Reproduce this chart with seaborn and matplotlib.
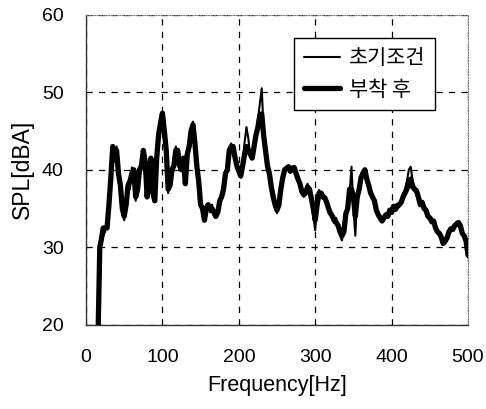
import numpy as np
import pandas as pd
import matplotlib
matplotlib.use("Agg")
import matplotlib.pyplot as plt
import seaborn as sns

freq = [16, 17, 18, 20, 22.5, 25, 27.5, 30, 32.5, 35, 37.5, 40, 42.5, 45, 47.5, 50,
        52.5, 55, 57.5, 60, 62.5, 65, 67.5, 70, 72.5, 75, 77.5, 80, 82.5, 85, 87.5, 90,
        92.5, 95, 97.5, 100, 102.5, 105, 107.5, 110, 112.5, 115, 117.5, 120, 122.5, 125,
        127.5, 130, 132.5, 135, 137.5, 140, 142.5, 145, 147.5, 150, 152.5, 155, 157.5, 160,
        162.5, 165, 167.5, 170, 172.5, 175, 177.5, 180, 182.5, 185, 187.5, 190, 192.5, 195,
        197.5, 200, 202.5, 205, 207.5, 210, 212.5, 215, 217.5, 220, 222.5, 225, 227.5, 230,
        232.5, 235, 237.5, 240, 242.5, 245, 247.5, 250, 252.5, 255, 257.5, 260, 262.5, 265,
        267.5, 270, 272.5, 275, 277.5, 280, 282.5, 285, 287.5, 290, 292.5, 295, 297.5, 300,
        302.5, 305, 307.5, 310, 312.5, 315, 317.5, 320, 322.5, 325, 327.5, 330, 332.5, 335,
        337.5, 340, 342.5, 345, 347.5, 350, 352.5, 355, 357.5, 360, 362.5, 365, 367.5, 370,
        372.5, 375, 377.5, 380, 382.5, 385, 387.5, 390, 392.5, 395, 397.5, 400, 402.5, 405,
        407.5, 410, 412.5, 415, 417.5, 420, 422.5, 425, 427.5, 430, 432.5, 435, 437.5, 440,
        442.5, 445, 447.5, 450, 452.5, 455, 457.5, 460, 462.5, 465, 467.5, 470, 472.5, 475,
        477.5, 480, 482.5, 485, 487.5, 490, 492.5, 495, 497.5, 500]

spl_initial = [20, 26, 29.5, 30.5, 31.5, 32, 33, 35, 40, 42.5, 41, 43, 40, 37.5, 34.5, 33.5,
               36, 38.5, 37.5, 40.3, 39, 36, 38, 39.5, 41, 42, 40.5, 37, 40, 41, 37.5, 36.5,
               41, 45, 46.5, 47, 45.5, 42, 37, 38.5, 39.5, 41, 43, 42, 40, 40.5,
               41, 38.5, 41.5, 43.5, 45.5, 46.2, 43, 40, 38, 36, 34.5, 34, 35.5, 35.2,
               34.5, 35.5, 34, 33.8, 35, 35.5, 36.5, 38, 39.5, 40.5, 42, 43.4, 42.5, 41.5,
               40, 39.5, 39, 41, 43.5, 45.5, 44, 41.6, 42, 43.5, 44, 46.5, 48.5, 50.5,
               45, 42, 41, 39, 37.4, 36, 35, 34.4, 36, 37.8, 39.5, 39.8, 40.4, 40,
               40.3, 40.4, 39.8, 39.1, 38.5, 37.8, 37.5, 36.5, 37.5, 38.2, 37, 36, 34, 32.2,
               36.1, 37.4, 36.5, 37, 36.1, 35.5, 34.4, 34.8, 33.5, 33.1, 33.8, 32.5, 31.5, 30.9,
               32.5, 34, 35.5, 37, 40.4, 35, 31.5, 37, 38, 39.5, 39.9, 39.5, 38.5, 37.8,
               37.5, 36.9, 35.5, 35, 34, 33.5, 33.8, 34, 33.9, 34.3, 34.5, 34.8, 35, 35.2,
               35, 35.2, 36, 36.9, 37.5, 38.5, 40, 40.4, 38.5, 37.8, 37, 36.1, 35.8, 35.5,
               35.2, 34.5, 34.2, 33.5, 33.8, 33, 32.2, 32.4, 31.5, 31, 30.8, 30.5, 31.5, 32.2,
               32, 32.5, 33, 33.3, 32.8, 32.5, 32, 31.3, 30.5, 28.7]

spl_after = [20, 25, 30, 31, 32.5, 32.5, 32.5, 35.5, 39, 43, 42, 42.5, 39.5, 38, 35, 34,
             35.5, 38, 38.5, 39.5, 40, 36.5, 37.5, 40, 40.5, 42.5, 41, 36.5, 39.5, 41.5, 37, 36,
             41.5, 44.5, 46, 47.3, 45, 42.5, 37.5, 38, 40, 40.5, 42.5, 42.5, 40.5, 40,
             41.5, 38.2, 42, 43, 45, 45.8, 43.5, 40.5, 38.5, 35.5, 35, 33.5, 35, 35.5,
             35, 35, 34.5, 34, 34.5, 36, 36.5, 37.5, 39.5, 40, 42.5, 43, 43, 41.6,
             40.5, 39.8, 39.2, 40.5, 42, 43, 42.5, 42, 41.5, 43, 44.5, 45.5, 47, 47.2,
             44.4, 42.5, 40.5, 39.5, 37.8, 36.5, 35.5, 34.8, 35.5, 37.5, 39, 40, 40.2, 40.4,
             39.8, 40.2, 40.3, 39.5, 38.8, 38.2, 37.2, 36.8, 37, 37.8, 37.5, 36.3, 35, 33.5,
             35.5, 37, 37, 36.5, 36.4, 35.8, 35, 34.4, 34, 33.5, 33.2, 32.8, 32, 31.5,
             32, 34.3, 35, 37.5, 37.5, 36.5, 34, 36.5, 37.5, 39, 39.5, 40, 38.8, 38,
             37, 36.5, 36, 34.8, 34.2, 33.8, 33.4, 33.8, 34.2, 34, 34.8, 34.5, 35.3, 34.9,
             35.4, 35.5, 35.8, 36.5, 37, 37.5, 38.5, 38.8, 37.8, 37.5, 37.3, 36.5, 35.5, 35.8,
             35, 34.8, 34, 33.8, 33.3, 33.4, 32.5, 32, 31.8, 31.3, 30.5, 30.8, 31.2, 32,
             32.4, 32.3, 32.8, 33, 33.2, 32.8, 31.8, 31.5, 30.8, 29]

series_labels = ["초기조건", "부착 후"]
x_ticks = [0, 100, 200, 300, 400, 500]
y_ticks = [20, 30, 40, 50, 60]

df_a = pd.DataFrame({"Frequency": freq, "SPL": spl_initial})
df_b = pd.DataFrame({"Frequency": freq, "SPL": spl_after})

sns.set_theme(style="white")
plt.rcParams["font.family"] = ["Liberation Sans", "Noto Sans CJK KR", "DejaVu Sans"]
plt.rcParams["text.color"] = "black"
plt.rcParams["axes.labelcolor"] = "black"

fig = plt.figure(figsize=(4.86, 4.09), dpi=100)
ax = fig.add_axes([0.177, 0.2054, 0.786, 0.759])

sns.lineplot(data=df_b, x="Frequency", y="SPL", ax=ax, color="black", linewidth=3.8,
             label=series_labels[1], zorder=3)
sns.lineplot(data=df_a, x="Frequency", y="SPL", ax=ax, color="black", linewidth=1.5,
             label=series_labels[0], zorder=4)

ax.set_xlim(0, 500)
ax.set_ylim(20, 60)
ax.set_xticks(x_ticks)
ax.set_yticks(y_ticks)
ax.tick_params(axis="both", length=0, labelsize=14, colors="black", labelcolor="black")
ax.tick_params(axis="x", pad=17)
ax.tick_params(axis="y", pad=16)
ax.grid(True, color="black", linestyle=(0, (5, 5)), linewidth=0.9)
for side in ["left", "bottom"]:
    ax.spines[side].set_color("#333333")
    ax.spines[side].set_linewidth(1.0)
for side in ["top", "right"]:
    ax.spines[side].set_color("#777777")
    ax.spines[side].set_linewidth(0.8)
    ax.spines[side].set_linestyle((0, (1, 1.5)))

ax.set_xlabel("Frequency[Hz]", fontsize=15.5, labelpad=7, color="black")
ax.set_ylabel("SPL[dBA]", fontsize=16.5, labelpad=6, color="black")

handles, labels = ax.get_legend_handles_labels()
order = [labels.index(series_labels[0]), labels.index(series_labels[1])]
leg = ax.legend([handles[i] for i in order], [labels[i] for i in order],
                loc="upper left", bbox_to_anchor=(0.545, 0.925),
                frameon=True, fancybox=False, edgecolor="black", framealpha=1,
                handlelength=1.75, handletextpad=0.45, borderpad=0.45,
                labelspacing=0.45, borderaxespad=0,
                prop={"family": ["Noto Sans CJK KR", "DejaVu Sans"], "size": 15})
for t in leg.get_texts():
    t.set_color("black")
leg.get_frame().set_linewidth(1.0)

fig.savefig("out.png", dpi=100, facecolor="white")
